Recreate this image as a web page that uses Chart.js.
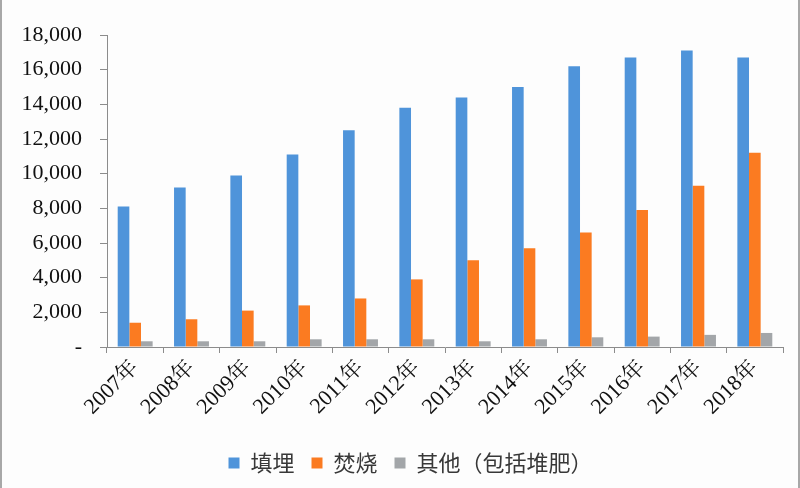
<!DOCTYPE html>
<html lang="zh">
<head>
<meta charset="UTF-8">
<title>垃圾处理量</title>
<script src="https://cdn.jsdelivr.net/npm/chart.js"></script>
<style>
    html, body {
        margin: 0;
        padding: 0;
        background: #fdfdfd;
    }
    #wrap {
        position: relative;
        width: 796px;
        height: 488px;
        border-left: 2px solid #a8a8a8;
        border-right: 2px solid #a8a8a8;
    }
</style>
</head>
<body>
<div id="wrap">
    <canvas id="chart"></canvas>
</div>
<script>
    const years = ['2007年', '2008年', '2009年', '2010年', '2011年', '2012年',
                   '2013年', '2014年', '2015年', '2016年', '2017年', '2018年'];
    const landfill = [8100, 9200, 9900, 11100, 12500, 13800, 14400, 15000, 16200, 16700, 17100, 16700];
    const incineration = [1400, 1600, 2100, 2400, 2800, 3900, 5000, 5700, 6600, 7900, 9300, 11200];
    const others = [330, 330, 330, 445, 445, 445, 330, 445, 560, 600, 700, 810];

    const tickFont = { family: "'Liberation Serif', 'Noto Serif CJK SC', 'Noto Sans CJK SC', serif", size: 22 };
    const axisColor = '#8c8c8c';

    // legend is centred on the whole picture, not on the padded box
    const legendShift = {
        id: 'legendShift',
        afterLayout(chart) {
            chart.legend.left += 18;
            chart.legend.right += 18;
        }
    };

    new Chart(document.getElementById('chart'), {
        type: 'bar',
        data: {
            labels: years,
            datasets: [
                { label: '填埋', data: landfill, backgroundColor: '#4f94da' },
                { label: '焚烧', data: incineration, backgroundColor: '#fb7b21' },
                { label: '其他（包括堆肥）', data: others, backgroundColor: '#a3a6a9' }
            ]
        },
        options: {
            responsive: true,
            maintainAspectRatio: false,
            animation: false,
            datasets: {
                bar: { categoryPercentage: 0.62, barPercentage: 1.0 }
            },
            layout: {
                padding: { top: 35, right: 15, left: 0, bottom: 4 }
            },
            plugins: {
                tooltip: { enabled: false },
                legend: {
                    position: 'bottom',
                    labels: {
                        boxWidth: 11,
                        boxHeight: 11,
                        padding: 17,
                        color: '#383838',
                        font: { family: "'Noto Sans CJK SC', sans-serif", size: 22 }
                    }
                }
            },
            scales: {
                x: {
                    grid: { drawOnChartArea: false, tickLength: 6, color: axisColor },
                    border: { color: axisColor },
                    ticks: {
                        color: '#111',
                        font: tickFont,
                        maxRotation: 45,
                        minRotation: 45,
                        padding: 2
                    },
                    afterFit: scale => { scale.height = 88; }
                },
                y: {
                    min: 0,
                    max: 18000,
                    grid: { drawOnChartArea: false, tickLength: 7, color: axisColor },
                    border: { color: axisColor },
                    ticks: {
                        stepSize: 2000,
                        color: '#111',
                        font: tickFont,
                        padding: 18,
                        callback: v => v === 0 ? '-' : v.toLocaleString('en-US')
                    },
                    afterFit: scale => { scale.width = 105; }
                }
            }
        },
        plugins: [legendShift]
    });
</script>
</body>
</html>
